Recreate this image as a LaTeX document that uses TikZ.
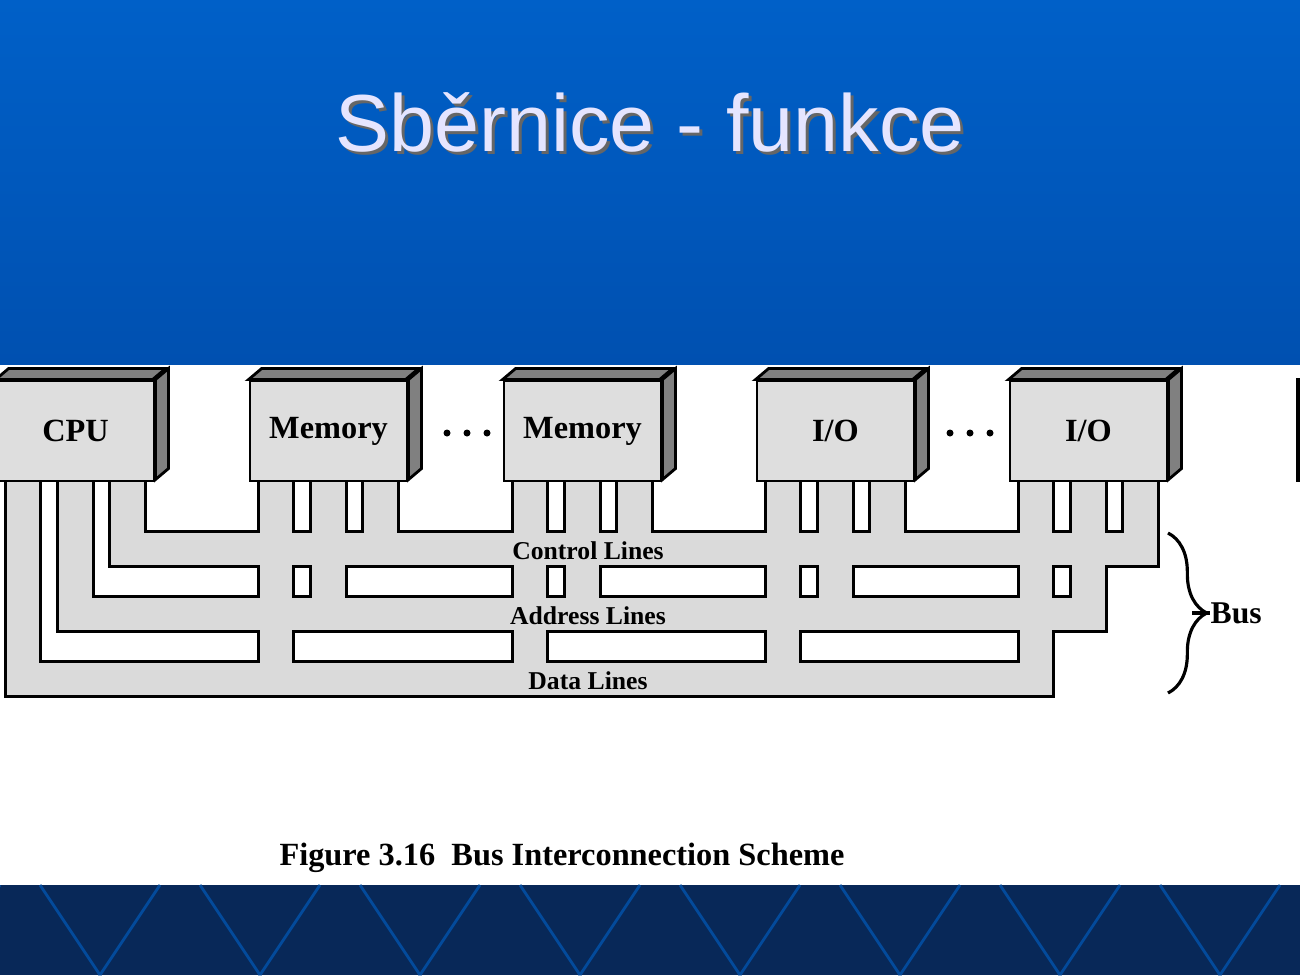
\documentclass[tikz,border=0pt]{standalone}
\usepackage{fontspec}
\setmainfont{Liberation Serif}
\newfontfamily\titlefont{Liberation Sans}
\usetikzlibrary{decorations.pathreplacing,positioning}
\definecolor{slideblue}{RGB}{0,96,200}
\definecolor{slidedeep}{RGB}{0,80,176}
\definecolor{slidenavy}{RGB}{8,40,88}
\definecolor{busgray}{RGB}{218,218,218}
\definecolor{facegray}{RGB}{222,222,222}
\definecolor{sidegray}{RGB}{128,128,128}
\begin{document}
\begin{tikzpicture}[x=0.01cm,y=-0.01cm,
    module/.style={rectangle,draw,line width=0.8pt,fill=facegray,minimum width=1.57cm,
      minimum height=1cm,inner sep=0pt,font=\bfseries\fontsize{9.2}{10}\selectfont},
    busline/.style={font=\bfseries\fontsize{7.3}{8}\selectfont,inner sep=0pt},
    dot/.style={circle,fill=black,inner sep=0pt,minimum size=0.07cm}]
  \useasboundingbox (0,0) rectangle (1300,975);
  % slide background
  \shade[top color=slideblue,bottom color=slidedeep] (0,0) rectangle (1300,365);
  \fill[white] (0,365) rectangle (1300,885);
  \fill[slidenavy] (0,885) rectangle (1300,975);
  \foreach \x in {0,160,320,480,640,800,960,1120,1280}
    \draw[slideblue!60!slidenavy,line width=0.8pt] (\x,885) -- (\x-60,975) (\x+40,885) -- (\x+100,975);
  \node[text=black!60,font=\titlefont\fontsize{23}{24}\selectfont] at (653,125) {Sběrnice - funkce};
  \node[text=blue!10,font=\titlefont\fontsize{23}{24}\selectfont] (title) at (650,122) {Sběrnice - funkce};
  % bus shapes: outline first, then fill to merge
  \foreach \pass in {0,1}{
    \ifnum\pass=0 \tikzset{busshape/.style={draw=black,line width=1.6pt}}
    \else \tikzset{busshape/.style={fill=busgray}}\fi
    \foreach \a/\b/\top/\bot in {10/42/663/695,62/95/598/630,114/147/533/565}{
      \path[busshape] (-3+\a,\top) rectangle (1010+\b,\bot);
      \foreach \lft in {-3,250,504,757,1010}
        \path[busshape] (\lft+\a,470) rectangle (\lft+\b,\bot);
    }
  }
  \node[busline] (ctrl) at (588,551) {Control Lines};
  \node[busline] (addr) at (588,616) {Address Lines};
  \node[busline] (data) at (588,681) {Data Lines};
  % modules
  \foreach \name/\lft/\lab in {cpu/-3/CPU,mema/250/Memory,memb/504/Memory,ioa/757/{I/O},iob/1010/{I/O}}{
    \node[module] (\name) at (\lft+78.5,431) {\lab};
    \draw[line width=0.8pt,fill=sidegray] (\name.north west) -- ++(13,-11) -- ++(157,0)
      -- ++(-13,11) -- cycle;
    \draw[line width=0.8pt,fill=sidegray] (\name.north east) -- ++(13,-11) -- ++(0,100)
      -- ++(-13,11) -- cycle;
  }
  \foreach \cx in {467,970}
    \foreach \dx in {-20,0,20}
      \node[dot] at (\cx+\dx,433) {};
  \fill[black] (1296,378) rectangle (1300,482);
  % bus brace
  \draw[line width=0.9pt,decorate,decoration={brace,amplitude=11}] (1168,533) -- (1168,693);
  \node[font=\bfseries\fontsize{9}{10}\selectfont,anchor=west,inner sep=0pt] (bus) at (1210,613) {Bus};
  \draw[line width=0.9pt] (1192,613) -- (bus.west);
  \node[font=\bfseries\fontsize{9.2}{10}\selectfont] (caption) at (562,858)
    {Figure 3.16\enspace Bus Interconnection Scheme};
\end{tikzpicture}
\end{document}
